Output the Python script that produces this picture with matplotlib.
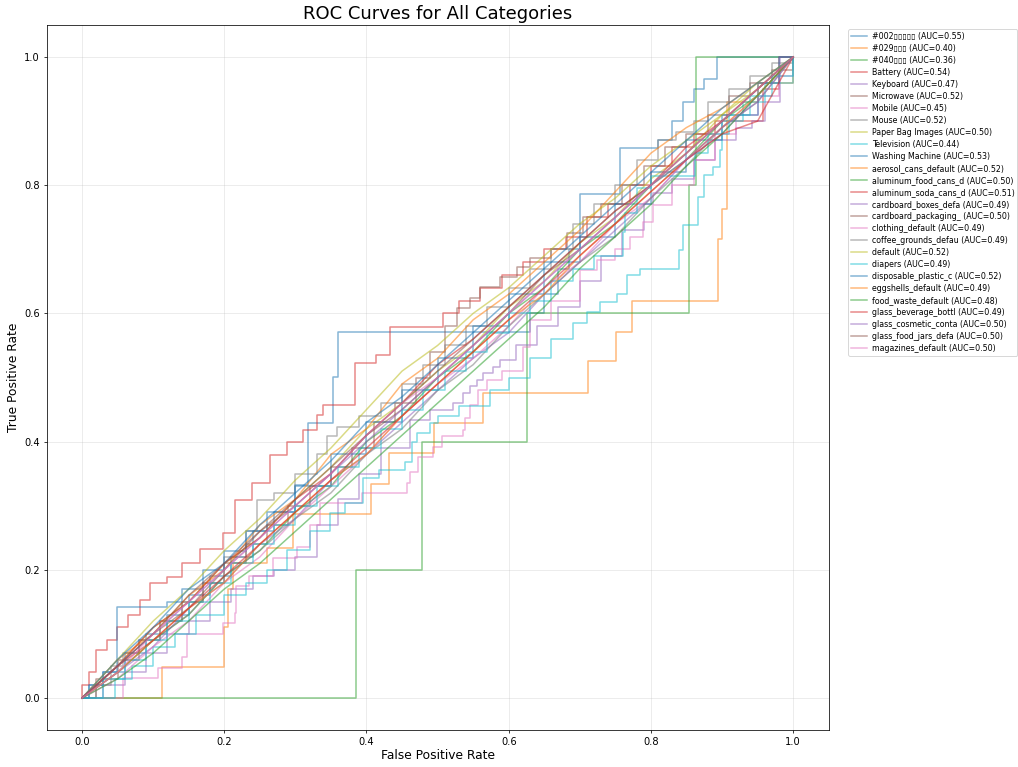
import matplotlib
matplotlib.use("Agg")
import matplotlib.pyplot as plt

# ---------------- data ----------------
names = ["#002\u25af\u25af\u25af\u25af\u25af", "#029\u25af\u25af\u25af", "#040\u25af\u25af\u25af", "Battery",
         "Keyboard", "Microwave", "Mobile", "Mouse", "Paper Bag Images", "Television",
         "Washing Machine", "aerosol_cans_default", "aluminum_food_cans_d",
         "aluminum_soda_cans_d", "cardboard_boxes_defa", "cardboard_packaging_",
         "clothing_default", "coffee_grounds_defau", "default", "diapers",
         "disposable_plastic_c", "eggshells_default", "food_waste_default",
         "glass_beverage_bottl", "glass_cosmetic_conta", "glass_food_jars_defa",
         "magazines_default"]
aucs = [0.55, 0.40, 0.36, 0.54, 0.47, 0.52, 0.45, 0.52, 0.50, 0.44, 0.53, 0.52, 0.50,
        0.51, 0.49, 0.50, 0.49, 0.49, 0.52, 0.49, 0.52, 0.49, 0.48, 0.49, 0.50, 0.50, 0.50]

# step curves: each point = (fpr where tpr jumps, new tpr)
fpr_002 = [0, 0.01, 0.03, 0.06, 0.09, 0.12, 0.15, 0.18, 0.21, 0.24, 0.27, 0.30, 0.318, 0.353, 0.36,
           0.63, 0.65, 0.67, 0.685, 0.70, 0.757, 0.81, 0.83, 0.845, 0.86, 0.875, 0.893, 1.0]
tpr_002 = [0, 0.02, 0.04, 0.07, 0.10, 0.13, 0.16, 0.19, 0.22, 0.26, 0.29, 0.332, 0.429, 0.501, 0.571,
           0.60, 0.63, 0.67, 0.70, 0.787, 0.858, 0.87, 0.90, 0.93, 0.95, 0.965, 1.0, 1.0]

fpr_029 = [0, 0.112, 0.20, 0.205, 0.212, 0.26, 0.297, 0.407, 0.432, 0.495, 0.564, 0.712, 0.751,
           0.773, 0.894, 0.90, 0.907, 0.95, 1.0]
tpr_029 = [0, 0.048, 0.11, 0.17, 0.21, 0.234, 0.287, 0.334, 0.382, 0.429, 0.476, 0.525, 0.571,
           0.619, 0.716, 0.763, 0.93, 0.96, 1.0]

fpr_040 = [0, 0.385, 0.478, 0.626, 0.854, 0.864, 1.0]
tpr_040 = [0, 0.20, 0.40, 0.60, 0.80, 1.0, 1.0]

fpr_bat = [0, 0.0, 0.01, 0.02, 0.035, 0.049, 0.065, 0.082, 0.096, 0.119, 0.14, 0.166, 0.198, 0.215,
           0.239, 0.264, 0.288, 0.311, 0.33, 0.339, 0.384, 0.414, 0.433, 0.508, 0.53, 0.56, 0.59,
           0.62, 0.65, 0.68, 0.71, 0.74, 0.77, 0.80, 0.83, 0.86, 0.89, 0.92, 0.958, 0.98, 1.0]
tpr_bat = [0, 0.02, 0.04, 0.075, 0.09, 0.111, 0.13, 0.153, 0.179, 0.189, 0.21, 0.233, 0.257, 0.309,
           0.335, 0.379, 0.40, 0.418, 0.441, 0.457, 0.523, 0.535, 0.579, 0.60, 0.62, 0.64, 0.66,
           0.68, 0.70, 0.72, 0.75, 0.77, 0.80, 0.83, 0.86, 0.88, 0.90, 0.90, 0.95, 1.0, 1.0]

fpr_key = [0, 0.03, 0.06, 0.09, 0.12, 0.15, 0.18, 0.21, 0.24, 0.27, 0.30, 0.33, 0.36, 0.39, 0.42,
           0.461, 0.489, 0.522, 0.536, 0.546, 0.555, 0.564, 0.578, 0.588, 0.61, 0.64, 0.67, 0.70,
           0.73, 0.76, 0.79, 0.803, 0.83, 0.86, 0.89, 0.92, 0.942, 0.96, 0.982, 1.0]
tpr_key = [0, 0.02, 0.04, 0.07, 0.10, 0.12, 0.15, 0.17, 0.19, 0.20, 0.22, 0.27, 0.31, 0.35, 0.39,
           0.434, 0.449, 0.46, 0.476, 0.486, 0.496, 0.507, 0.517, 0.527, 0.55, 0.58, 0.61, 0.65,
           0.69, 0.73, 0.77, 0.788, 0.81, 0.84, 0.87, 0.89, 0.90, 0.93, 1.0, 1.0]

fpr_mic = [0, 0.02, 0.05, 0.08, 0.11, 0.14, 0.17, 0.20, 0.23, 0.26, 0.29, 0.32, 0.35, 0.38, 0.41,
           0.44, 0.47, 0.49, 0.51, 0.527, 0.546, 0.56, 0.588, 0.611, 0.63, 0.66, 0.682, 0.705,
           0.73, 0.76, 0.79, 0.82, 0.85, 0.88, 0.91, 0.94, 0.97, 1.0]
tpr_mic = [0, 0.03, 0.06, 0.09, 0.12, 0.15, 0.18, 0.21, 0.24, 0.27, 0.30, 0.33, 0.36, 0.39, 0.43,
           0.46, 0.50, 0.54, 0.58, 0.608, 0.624, 0.642, 0.657, 0.673, 0.686, 0.70, 0.725, 0.751,
           0.77, 0.80, 0.83, 0.86, 0.88, 0.91, 0.94, 0.96, 0.98, 1.0]

fpr_mob = [0, 0.058, 0.107, 0.14, 0.147, 0.198, 0.215, 0.217, 0.235, 0.268, 0.302, 0.32, 0.335,
           0.393, 0.457, 0.461, 0.473, 0.494, 0.506, 0.536, 0.539, 0.546, 0.557, 0.569, 0.59, 0.62,
           0.63, 0.66, 0.70, 0.724, 0.75, 0.77, 0.789, 0.803, 0.83, 0.86, 0.89, 0.92, 0.95, 0.98, 1.0]
tpr_mob = [0, 0.031, 0.047, 0.064, 0.10, 0.117, 0.133, 0.174, 0.19, 0.218, 0.236, 0.27, 0.304,
           0.32, 0.335, 0.353, 0.376, 0.392, 0.408, 0.418, 0.437, 0.457, 0.48, 0.496, 0.51, 0.548,
           0.59, 0.62, 0.668, 0.683, 0.70, 0.72, 0.743, 0.769, 0.80, 0.84, 0.88, 0.91, 0.94, 0.97, 1.0]

fpr_mou = [0, 0.02, 0.04, 0.058, 0.08, 0.11, 0.14, 0.17, 0.20, 0.23, 0.246, 0.27, 0.30, 0.33, 0.344,
           0.358, 0.39, 0.42, 0.45, 0.48, 0.51, 0.54, 0.57, 0.60, 0.63, 0.66, 0.69, 0.72, 0.75,
           0.78, 0.81, 0.836, 0.86, 0.88, 0.91, 0.94, 0.97, 1.0]
tpr_mou = [0, 0.02, 0.05, 0.07, 0.09, 0.12, 0.15, 0.18, 0.22, 0.26, 0.309, 0.32, 0.35, 0.38, 0.408,
           0.423, 0.44, 0.46, 0.49, 0.52, 0.55, 0.58, 0.61, 0.64, 0.67, 0.70, 0.74, 0.77, 0.80,
           0.84, 0.87, 0.883, 0.90, 0.93, 0.95, 0.97, 0.99, 1.0]

fpr_tv = [0, 0.046, 0.07, 0.10, 0.13, 0.16, 0.20, 0.23, 0.26, 0.288, 0.32, 0.349, 0.37, 0.395, 0.418,
          0.454, 0.464, 0.471, 0.49, 0.50, 0.53, 0.574, 0.60, 0.63, 0.66, 0.69, 0.71, 0.728, 0.752,
          0.766, 0.785, 0.839, 0.845, 0.866, 0.874, 0.888, 0.897, 0.90, 0.93, 0.96, 1.0]
tpr_tv = [0, 0.03, 0.05, 0.08, 0.10, 0.13, 0.16, 0.18, 0.20, 0.231, 0.26, 0.289, 0.304, 0.343, 0.356,
          0.368, 0.40, 0.413, 0.429, 0.44, 0.455, 0.48, 0.50, 0.53, 0.56, 0.585, 0.603, 0.618, 0.631,
          0.66, 0.67, 0.699, 0.738, 0.782, 0.816, 0.829, 0.855, 0.90, 0.93, 0.96, 1.0]

fpr_wash = [0, 0.01, 0.03, 0.049, 0.119, 0.14, 0.17, 0.20, 0.23, 0.26, 0.30, 0.35, 0.40, 0.45,
            0.50, 0.55, 0.60, 0.65, 0.70, 0.75, 0.80, 0.85, 0.90, 0.95, 0.98, 1.0]
tpr_wash = [0, 0.02, 0.04, 0.142, 0.15, 0.17, 0.20, 0.23, 0.26, 0.29, 0.33, 0.38, 0.43, 0.48,
            0.53, 0.58, 0.63, 0.68, 0.72, 0.77, 0.82, 0.87, 0.91, 0.96, 1.0, 1.0]

fpr_dia = [0, 0.022, 0.03, 0.06, 0.09, 0.12, 0.15, 0.18, 0.21, 0.24, 0.27, 0.30, 0.33, 0.36, 0.39,
           0.42, 0.45, 0.48, 0.51, 0.54, 0.57, 0.60, 0.63, 0.66, 0.69, 0.72, 0.761, 0.764, 0.78,
           0.80, 0.862, 0.88, 0.91, 0.94, 0.97, 1.0]
tpr_dia = [0, 0.0, 0.03, 0.06, 0.09, 0.12, 0.15, 0.18, 0.21, 0.24, 0.27, 0.30, 0.33, 0.36, 0.39,
           0.42, 0.45, 0.48, 0.51, 0.54, 0.57, 0.60, 0.62, 0.65, 0.67, 0.69, 0.727, 0.757, 0.796,
           0.814, 0.85, 0.88, 0.91, 0.94, 0.97, 1.0]

# near-diagonal curves on a common fpr grid (plain lines)
fpr_grid = [0.0, 0.05, 0.10, 0.15, 0.20, 0.25, 0.30, 0.35, 0.40, 0.45, 0.50, 0.55, 0.60, 0.65,
            0.70, 0.75, 0.80, 0.85, 0.90, 0.95, 1.0]
tpr_paper = [0, .05, .11, .15, .21, .25, .31, .36, .42, .46, .51, .55, .61, .65, .71, .75, .81, .85, .91, .95, 1]
tpr_aerosol = [0, .06, .10, .16, .20, .27, .31, .38, .42, .49, .53, .59, .63, .68, .73, .79, .85, .89, .92, .96, 1]
tpr_alfood = [0, .04, .09, .13, .19, .23, .29, .33, .40, .44, .50, .54, .60, .64, .70, .74, .80, .84, .90, .94, 1]
tpr_alsoda = [0, .05, .11, .15, .21, .25, .31, .35, .41, .46, .52, .56, .61, .66, .71, .76, .80, .86, .90, .95, 1]
tpr_cbox = [0, .04, .08, .14, .18, .24, .28, .34, .38, .43, .48, .53, .57, .63, .68, .73, .78, .84, .88, .94, 1]
tpr_cpack = [0, .05, .10, .14, .20, .26, .30, .35, .41, .45, .50, .55, .60, .66, .70, .75, .80, .85, .90, .95, 1]
tpr_cloth = [0, .03, .08, .12, .18, .22, .28, .33, .38, .44, .49, .53, .58, .64, .68, .74, .78, .84, .89, .94, 1]
tpr_coffee = [0, .04, .09, .13, .19, .23, .28, .32, .38, .42, .48, .52, .58, .63, .68, .72, .78, .83, .89, .93, 1]
tpr_default = [0, .06, .12, .17, .23, .28, .34, .39, .45, .51, .55, .60, .64, .69, .74, .78, .83, .87, .91, .96, 1]
tpr_dispo = [0, .06, .11, .17, .21, .27, .32, .37, .43, .47, .52, .57, .62, .67, .72, .77, .82, .87, .92, .96, 1]
tpr_egg = [0, .04, .09, .14, .18, .24, .29, .34, .38, .44, .49, .54, .59, .63, .69, .74, .79, .84, .89, .94, 1]
tpr_food = [0, .03, .07, .12, .17, .21, .26, .31, .36, .41, .46, .51, .56, .61, .67, .72, .77, .83, .88, .94, 1]
tpr_glbev = [0, .05, .09, .14, .19, .24, .29, .34, .39, .44, .49, .54, .59, .64, .69, .74, .79, .84, .88, .90, 1]
tpr_glcos = [0, .05, .10, .15, .20, .25, .30, .35, .40, .45, .50, .55, .60, .65, .70, .75, .80, .84, .89, .93, 1]
tpr_gljar = [0, .05, .10, .16, .21, .26, .31, .36, .41, .46, .51, .56, .61, .66, .71, .76, .80, .85, .90, .95, 1]
tpr_maga = [0, .04, .10, .15, .20, .25, .30, .35, .41, .46, .50, .55, .60, .65, .70, .75, .80, .85, .90, .95, 1]

curves = [
    (fpr_002, tpr_002, True), (fpr_029, tpr_029, True), (fpr_040, tpr_040, True),
    (fpr_bat, tpr_bat, True), (fpr_key, tpr_key, True), (fpr_mic, tpr_mic, True),
    (fpr_mob, tpr_mob, True), (fpr_mou, tpr_mou, True), (fpr_grid, tpr_paper, False),
    (fpr_tv, tpr_tv, True), (fpr_wash, tpr_wash, True), (fpr_grid, tpr_aerosol, False),
    (fpr_grid, tpr_alfood, False), (fpr_grid, tpr_alsoda, False), (fpr_grid, tpr_cbox, False),
    (fpr_grid, tpr_cpack, False), (fpr_grid, tpr_cloth, False), (fpr_grid, tpr_coffee, False),
    (fpr_grid, tpr_default, False), (fpr_dia, tpr_dia, True), (fpr_grid, tpr_dispo, False),
    (fpr_grid, tpr_egg, False), (fpr_grid, tpr_food, False), (fpr_grid, tpr_glbev, False),
    (fpr_grid, tpr_glcos, False), (fpr_grid, tpr_gljar, False), (fpr_grid, tpr_maga, False),
]

# ---------------- plot ----------------
fig = plt.figure(figsize=(1018 / 68, 767 / 68), dpi=68)
ax = fig.add_axes([0.0457, 0.0482, 0.7683, 0.9192])

for name, auc, (fx, ty, step) in zip(names, aucs, curves):
    ax.plot(fx, ty, drawstyle="steps-post" if step else "default",
            lw=1.6, alpha=0.55, label=f"{name} (AUC={auc:.2f})")

ax.set_xticks([0.0, 0.2, 0.4, 0.6, 0.8, 1.0])
ax.set_yticks([0.0, 0.2, 0.4, 0.6, 0.8, 1.0])
ax.tick_params(labelsize=10.5)
ax.grid(True, alpha=0.3)
ax.set_xlabel("False Positive Rate", fontsize=13, labelpad=2)
ax.set_ylabel("True Positive Rate", fontsize=13)
ax.set_title("ROC Curves for All Categories", fontsize=19)
ax.legend(loc="upper left", bbox_to_anchor=(1.02, 1.0), fontsize=8.4, labelspacing=0.38,
          borderpad=0.35, handletextpad=0.6)

fig.savefig("out.png", dpi=68)
